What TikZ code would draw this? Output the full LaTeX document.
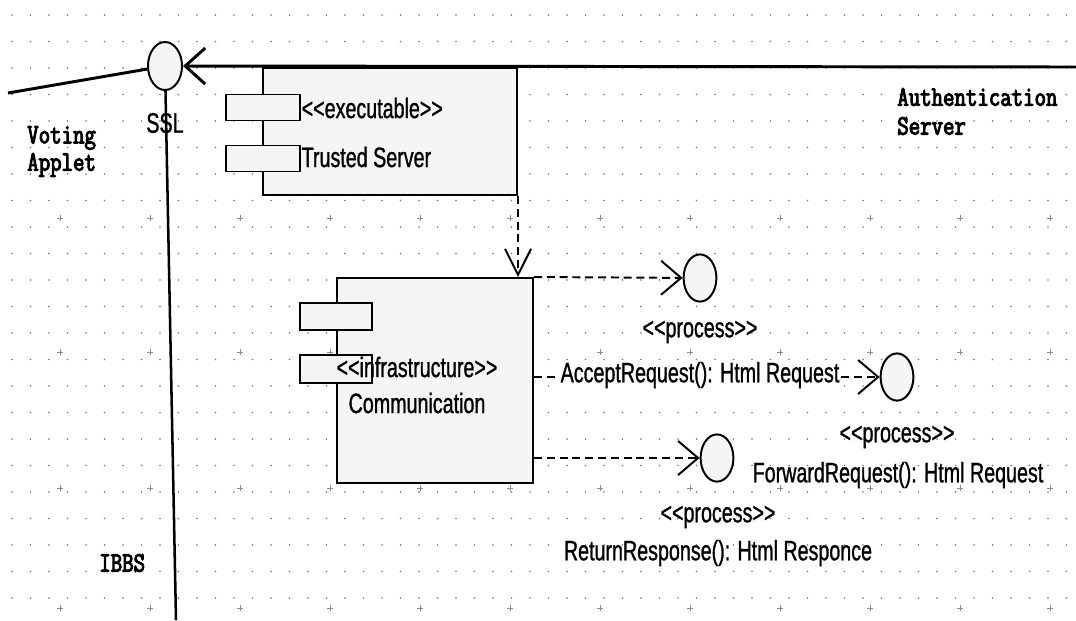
\documentclass[tikz,border=0pt]{standalone}
\usepackage{fontspec}
\newfontfamily\umlfont[FakeStretch=0.7,FakeBold=1]{Liberation Sans}
\newfontfamily\codefont[FakeStretch=0.79,FakeBold=3.5]{Latin Modern Mono}
\newcommand\stereo[1]{<\kern0pt<#1>\kern0pt>}
\usetikzlibrary{arrows.meta,shapes.geometric}

\begin{document}
\begin{tikzpicture}[x=0.025cm,y=-0.025cm]

    \tikzset{
      component/.style={
        draw,
        line width=1.4pt,
        fill=gray!8,
        inner sep=0pt,
      },
      port/.style={
        component,
        minimum width=1.85cm,
        minimum height=0.65cm,
      },
      iface/.style={
        draw,
        ellipse,
        line width=1.4pt,
        fill=gray!8,
        inner sep=0pt,
        minimum width=0.82cm,
        minimum height=1.18cm,
      },
      uml/.style={
        font=\umlfont\fontsize{20}{22}\selectfont,
        inner sep=1pt,
      },
      code/.style={
        font=\codefont\fontsize{20}{22}\selectfont,
        inner sep=0pt,
        anchor=west,
      },
      wire/.style={line width=2.1pt},
      usage/.style={
        line width=1.4pt,
        dash pattern=on 2mm off 1.2mm,
        -{Straight Barb[length=5mm,width=8.5mm]},
      },
    }
    \useasboundingbox (0,0) rectangle (1076,620);
    \fill[white] (0,0) rectangle (1076,620);
    % dotted grid of the editor
    \foreach \i in {0,...,57}
      \foreach \j in {0,...,23}
        \fill[black!55] (12+18.5*\i,15+26.5*\j) circle[radius=0.9];
    \foreach \i in {0,...,11}
      \foreach \j in {218,352,488,608}
        \draw[black!45,line width=0.4pt] (60+90*\i-3,\j) -- ++(6,0) (60+90*\i,\j-3) -- ++(0,6);

    % components
    \node[component,minimum width=6.35cm,minimum height=3.175cm] (ts) at (390,131.5) {};
    \node[port] (tsp1) at (263,107.5) {};
    \node[port] (tsp2) at (263,158.5) {};
    \node[uml,anchor=west] (tsst) at (300,108) {\stereo{executable}};
    \node[uml,anchor=west] (tsname) at (300,157) {Trusted Server};

    \node[component,minimum width=4.9cm,minimum height=5.125cm] (comm) at (435,380.5) {};
    \node[port,minimum width=1.8cm,minimum height=0.675cm] (cp1) at (336,316.5) {};
    \node[port,minimum width=1.8cm,minimum height=0.7cm] (cp2) at (336,369) {};
    \node[uml] (commst) at (417,367) {\stereo{infrastructure}};
    \node[uml] (commname) at (417,403) {Communication};

    % interfaces
    \node[iface,minimum width=0.85cm,minimum height=1.2cm] (ssl) at (165,66) {};
    \node[iface] (accept) at (700,278) {};
    \node[iface] (forward) at (897,377) {};
    \node[iface] (return) at (717,458) {};

    \coordinate (applet) at (8,93);
    \coordinate (auth) at (1076,67);
    \coordinate (ibbs) at (176,620);
    \draw[wire] (applet) -- (ssl);
    \draw[wire,-{Straight Barb[length=5mm,width=9mm]}] (auth) -- (ssl);
    \draw[line width=1.8pt] (ssl) -- (ibbs);

    \draw[usage,-{Straight Barb[length=6.5mm,width=6.5mm]}] (ts.south east) -- (ts.south east |- comm.north);
    \draw[usage] (comm.north east) -- (accept);
    \draw[usage] (comm.east |- forward) -- (forward);
    \draw[usage] (comm.east |- return) -- (return);

    % labels
    \node[uml] (sslname) at (165,123) {SSL};
    \node[uml] (acceptst) at (700,332) {\stereo{process}};
    \node[uml,fill=white] (acceptop) at (700,375) {AcceptRequest(): Html Request};
    \node[uml] (forwardst) at (897,437) {\stereo{process}};
    \node[uml] (forwardop) at (898,475) {ForwardRequest(): Html Request};
    \node[uml] (returnst) at (718,517) {\stereo{process}};
    \node[uml] (returnop) at (718,553) {ReturnResponse(): Html Responce};

    \node[code] (voting) at (27,138) {Voting};
    \node[code] (votingb) at (27,165) {Applet};
    \node[code] (authname) at (897,97) {Authentication};
    \node[code] (authnameb) at (897,126) {Server};
    \node[code] (ibbsname) at (99,563) {IBBS};

\end{tikzpicture}
\end{document}
